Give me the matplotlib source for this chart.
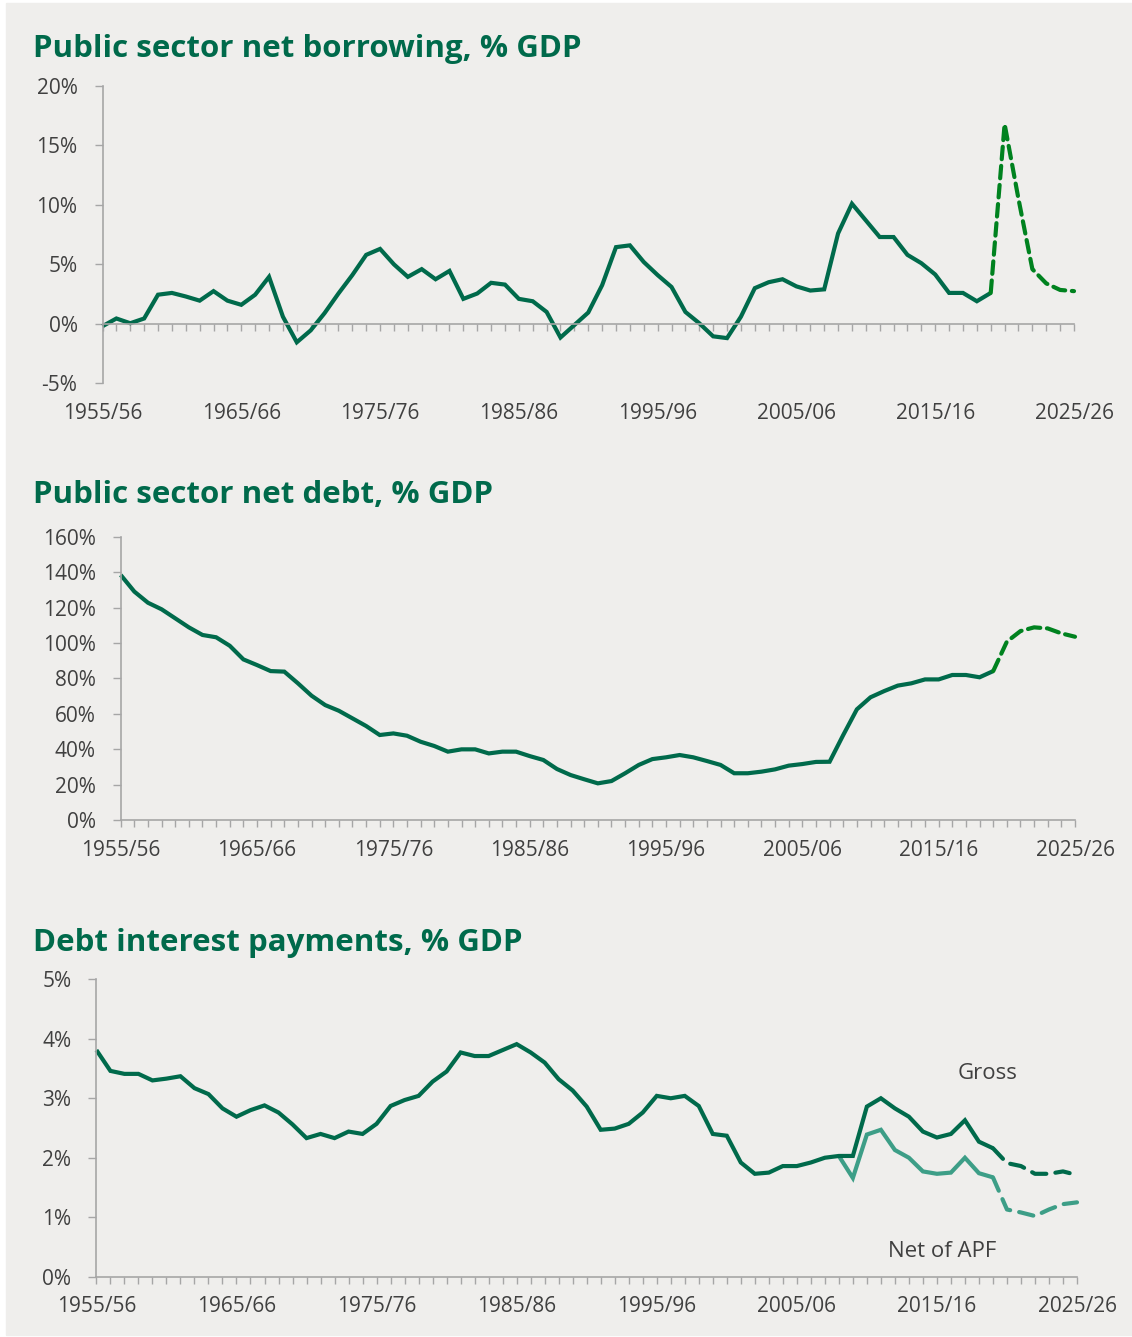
import matplotlib.pyplot as plt
import matplotlib.transforms as mtransforms
from matplotlib.patches import Rectangle

years = list(range(1955, 2026))
year_labels = ["1955/56", "1965/66", "1975/76", "1985/86", "1995/96", "2005/06", "2015/16", "2025/26"]

# public sector net borrowing, % GDP (1955/56 - 2025/26)
borrowing = [-0.2, 0.45, 0.05, 0.45, 2.45, 2.6, 2.3, 1.95, 2.75, 1.95,
             1.6, 2.45, 3.95, 0.6, -1.55, -0.55, 0.9, 2.55, 4.1, 5.8,
             6.3, 5.0, 3.95, 4.6, 3.75, 4.45, 2.1, 2.55, 3.45, 3.3,
             2.1, 1.9, 1.0, -1.15, -0.1, 0.95, 3.25, 6.45, 6.6, 5.2,
             4.1, 3.1, 1.0, 0.05, -1.05, -1.2, 0.6, 3.0, 3.5, 3.75,
             3.15, 2.8, 2.9, 7.6, 10.1, 8.7, 7.3, 7.3, 5.8, 5.1,
             4.15, 2.6, 2.6, 1.9, 2.6, 16.8, 10.5, 4.6, 3.4, 2.85,
             2.75]

# public sector net debt, % GDP
debt = [138.4, 129.0, 122.7, 119.0, 113.9, 108.8, 104.5, 103.2, 98.4, 90.7,
        87.5, 84.1, 83.8, 77.2, 70.2, 64.9, 61.7, 57.4, 53.1, 48.0,
        48.9, 47.6, 44.2, 41.8, 38.6, 39.9, 39.9, 37.6, 38.6, 38.6,
        36.1, 33.9, 28.8, 25.4, 23.0, 20.7, 22.0, 26.4, 31.1, 34.4,
        35.4, 36.7, 35.4, 33.3, 31.1, 26.4, 26.4, 27.3, 28.6, 30.7,
        31.6, 32.8, 32.9, 48.0, 62.5, 69.3, 72.8, 75.9, 77.2, 79.4,
        79.4, 81.9, 81.9, 80.6, 84.1, 100.7, 106.7, 108.8, 108.2, 105.4,
        103.5]

# debt interest, % GDP
interest_gross = [3.81, 3.46, 3.41, 3.41, 3.30, 3.33, 3.37, 3.17, 3.07, 2.83,
                  2.69, 2.80, 2.88, 2.76, 2.56, 2.33, 2.40, 2.33, 2.44, 2.40,
                  2.57, 2.87, 2.97, 3.04, 3.28, 3.45, 3.77, 3.71, 3.71, 3.81,
                  3.91, 3.77, 3.60, 3.32, 3.13, 2.86, 2.47, 2.49, 2.57, 2.76,
                  3.04, 3.00, 3.04, 2.87, 2.40, 2.37, 1.92, 1.73, 1.75, 1.86,
                  1.86, 1.92, 2.00, 2.03, 2.03, 2.86, 3.00, 2.83, 2.69, 2.44,
                  2.34, 2.40, 2.63, 2.27, 2.16, 1.91, 1.86, 1.73, 1.73, 1.77,
                  1.71]
net_years = list(range(2008, 2026))
interest_net = [2.03, 1.66, 2.39, 2.47, 2.13, 2.00, 1.77, 1.73, 1.75, 2.00,
                1.74, 1.67, 1.13, 1.08, 1.02, 1.13, 1.22, 1.25]

forecast_from = 2019

DARK = "#006a4b"
BRIGHT = "#00821f"
TEAL = "#3d9e87"
TEXT = "#404040"
GRID = "#a6a6a6"
BG = "#efeeec"

W, H = 1132, 1337
fig = plt.figure(figsize=(W / 100, H / 100), dpi=100)
fig.patch.set_facecolor("white")
fig.patches.append(Rectangle((6 / W, 2 / H), 1 - 6 / W, 1 - 5 / H,
                             transform=fig.transFigure, color=BG, zorder=-10))

plt.rcParams["font.family"] = ["Open Sans", "DejaVu Sans"]


def add_panel(left, right, top, bottom):
    ax = fig.add_axes([left / W, 1 - bottom / H, (right - left) / W, (bottom - top) / H])
    ax.set_facecolor("none")
    for s in ["top", "right"]:
        ax.spines[s].set_visible(False)
    for s in ["left", "bottom"]:
        ax.spines[s].set_color(GRID)
        ax.spines[s].set_linewidth(1.2)
    ax.set_xlim(1955, 2025)
    ax.set_xticks(years)
    ax.set_xticklabels([])
    ax.tick_params(axis="x", direction="out", length=5, width=1, color=GRID)
    ax.tick_params(axis="y", direction="out", length=6, width=1, color=GRID,
                   labelsize=15, labelcolor=TEXT, pad=12)
    # decade labels sit below the plot area
    trans = mtransforms.blended_transform_factory(ax.transData, ax.transAxes)
    off = -30 / (bottom - top)
    for i, lab in enumerate(year_labels):
        ax.text(1955 + 10 * i, off, lab, transform=trans, ha="center", va="center",
                fontsize=15, color=TEXT)
    return ax


def split_plot(ax, xs, ys, solid_color, dash_color, dashes):
    k = xs.index(forecast_from)
    ax.plot(xs[:k + 1], ys[:k + 1], color=solid_color, lw=3, solid_joinstyle="miter",
            solid_capstyle="butt")
    ax.plot(xs[k:], ys[k:], color=dash_color, lw=3, dashes=dashes,
            dash_capstyle="round")


def title(y_base, text):
    fig.text(33 / W, 1 - y_base / H, text, fontsize=22.5, fontweight="bold",
             color=DARK, va="baseline", ha="left")


# borrowing
ax1 = add_panel(102.5, 1074, 86, 383.3)
ax1.set_ylim(-5, 20)
ax1.set_yticks([-5, 0, 5, 10, 15, 20])
ax1.set_yticklabels(["-5%", "0%", "5%", "10%", "15%", "20%"])
ax1.spines["bottom"].set_position(("data", 0))
split_plot(ax1, years, borrowing, DARK, BRIGHT, (3, 1.6))
title(57, "Public sector net borrowing, % GDP")

# debt
ax2 = add_panel(120.7, 1075, 536.7, 820)
ax2.set_ylim(0, 160)
ax2.set_yticks(range(0, 161, 20))
ax2.set_yticklabels([f"{v}%" for v in range(0, 161, 20)])
split_plot(ax2, years, debt, DARK, BRIGHT, (3, 1.6))
title(503, "Public sector net debt, % GDP")

# debt interest
ax3 = add_panel(96.4, 1077, 979.3, 1276.7)
ax3.set_ylim(0, 5)
ax3.set_yticks(range(0, 6))
ax3.set_yticklabels([f"{v}%" for v in range(0, 6)])
split_plot(ax3, net_years, interest_net, TEAL, TEAL, (3.5, 2.2))
split_plot(ax3, years, interest_gross, DARK, DARK, (3.5, 2.2))
ax3.text(2018.6, 3.41, "Gross", fontsize=16, color=TEXT, ha="center", va="center")
ax3.text(2015.4, 0.42, "Net of APF", fontsize=16, color=TEXT, ha="center", va="center")
title(951, "Debt interest payments, % GDP")

for ax in (ax1, ax2, ax3):
    for ln in ax.lines:
        ln.set_clip_on(False)

fig.savefig("out.png", dpi=100, facecolor=fig.get_facecolor())
